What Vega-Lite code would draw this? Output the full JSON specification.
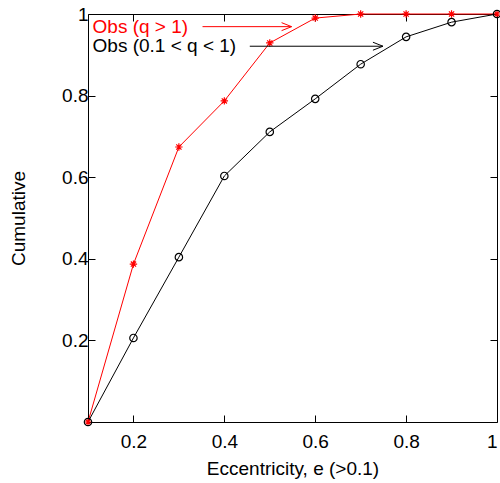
{
  "$schema": "https://vega.github.io/schema/vega-lite/v6.json",
  "width": 409,
  "height": 408,
  "autosize": "none",
  "padding": {"left": 88, "top": 14, "right": 3, "bottom": 61},
  "config": {
    "view": {"stroke": "black", "strokeWidth": 1},
    "font": "Liberation Sans",
    "axis": {"domain": false, "grid": false, "tickColor": "black", "tickSize": -7, "tickWidth": 1,
             "labelFont": "Liberation Sans", "labelFontSize": 19, "labelColor": "black", "format": "~g",
             "titleFont": "Liberation Sans", "titleFontSize": 19, "titleFontWeight": "normal", "titleColor": "black"}
  },
  "datasets": {
    "obs": [
      {"e": 0.1, "cum": 0.0, "series": "q>1"},
      {"e": 0.2, "cum": 0.387, "series": "q>1"},
      {"e": 0.3, "cum": 0.674, "series": "q>1"},
      {"e": 0.4, "cum": 0.787, "series": "q>1"},
      {"e": 0.5, "cum": 0.929, "series": "q>1"},
      {"e": 0.6, "cum": 0.99, "series": "q>1"},
      {"e": 0.7, "cum": 1.0, "series": "q>1"},
      {"e": 0.8, "cum": 1.0, "series": "q>1"},
      {"e": 0.9, "cum": 1.0, "series": "q>1"},
      {"e": 1.0, "cum": 1.0, "series": "q>1"},
      {"e": 0.1, "cum": 0.0, "series": "0.1<q<1"},
      {"e": 0.2, "cum": 0.206, "series": "0.1<q<1"},
      {"e": 0.3, "cum": 0.404, "series": "0.1<q<1"},
      {"e": 0.4, "cum": 0.603, "series": "0.1<q<1"},
      {"e": 0.5, "cum": 0.711, "series": "0.1<q<1"},
      {"e": 0.6, "cum": 0.792, "series": "0.1<q<1"},
      {"e": 0.7, "cum": 0.877, "series": "0.1<q<1"},
      {"e": 0.8, "cum": 0.944, "series": "0.1<q<1"},
      {"e": 0.9, "cum": 0.98, "series": "0.1<q<1"},
      {"e": 1.0, "cum": 1.0, "series": "0.1<q<1"}
    ],
    "labels": [
      {"x": 0.11, "y": 0.969, "text": "Obs (q > 1)", "series": "q>1", "x1": 0.352, "x2": 0.548},
      {"x": 0.11, "y": 0.921, "text": "Obs (0.1 < q < 1)", "series": "0.1<q<1", "x1": 0.456, "x2": 0.749}
    ]
  },
  "resolve": {"axis": {"x": "independent", "y": "independent"}},
  "layer": [
    {
      "data": {"name": "obs"},
      "mark": {"type": "line", "strokeWidth": 1},
      "encoding": {
        "x": {"field": "e", "type": "quantitative",
              "scale": {"domain": [0.1, 1], "nice": false, "zero": false},
              "axis": {"orient": "bottom", "values": [0.2, 0.4, 0.6, 0.8, 1.0], "title": "Eccentricity, e (>0.1)", "labelPadding": 17, "titlePadding": 8}},
        "y": {"field": "cum", "type": "quantitative",
              "scale": {"domain": [0, 1], "nice": false},
              "axis": {"orient": "left", "values": [0.2, 0.4, 0.6, 0.8, 1.0], "title": "Cumulative", "labelPadding": 7, "titlePadding": 33}},
        "color": {"field": "series", "type": "nominal", "scale": {"domain": ["q>1", "0.1<q<1"], "range": ["#ff0000", "#000000"]}, "legend": null}
      }
    },
    {
      "data": {"name": "obs"},
      "mark": {"type": "point", "filled": false, "size": 55, "strokeWidth": 1.2, "opacity": 1},
      "encoding": {
        "x": {"field": "e", "type": "quantitative", "axis": {"orient": "top", "values": [0.2, 0.4, 0.6, 0.8, 1.0], "labels": false, "title": null}},
        "y": {"field": "cum", "type": "quantitative", "axis": {"orient": "right", "values": [0.2, 0.4, 0.6, 0.8, 1.0], "labels": false, "title": null}},
        "color": {"field": "series", "type": "nominal", "legend": null},
        "shape": {"field": "series", "type": "nominal", "scale": {"domain": ["q>1", "0.1<q<1"], "range": ["M-1,0L1,0M0,-1L0,1M-0.7,-0.7L0.7,0.7M-0.7,0.7L0.7,-0.7", "circle"]}, "legend": null}
      }
    },
    {
      "data": {"name": "labels"},
      "mark": {"type": "text", "align": "left", "baseline": "middle", "fontSize": 19, "font": "Liberation Sans"},
      "encoding": {
        "x": {"field": "x", "type": "quantitative", "axis": null},
        "y": {"field": "y", "type": "quantitative", "axis": null},
        "text": {"field": "text"},
        "color": {"field": "series", "type": "nominal", "legend": null}
      }
    },
    {
      "data": {"name": "labels"},
      "mark": {"type": "rule", "strokeWidth": 1},
      "encoding": {
        "x": {"field": "x1", "type": "quantitative", "axis": null},
        "x2": {"field": "x2"},
        "y": {"field": "y", "type": "quantitative", "axis": null},
        "color": {"field": "series", "type": "nominal", "legend": null}
      }
    },
    {
      "data": {"name": "labels"},
      "mark": {"type": "point", "filled": false, "size": 400, "strokeWidth": 1, "opacity": 1, "shape": "M-1,-0.4L0,0L-1,0.4"},
      "encoding": {
        "x": {"field": "x2", "type": "quantitative", "axis": null},
        "y": {"field": "y", "type": "quantitative", "axis": null},
        "color": {"field": "series", "type": "nominal", "legend": null}
      }
    }
  ]
}
